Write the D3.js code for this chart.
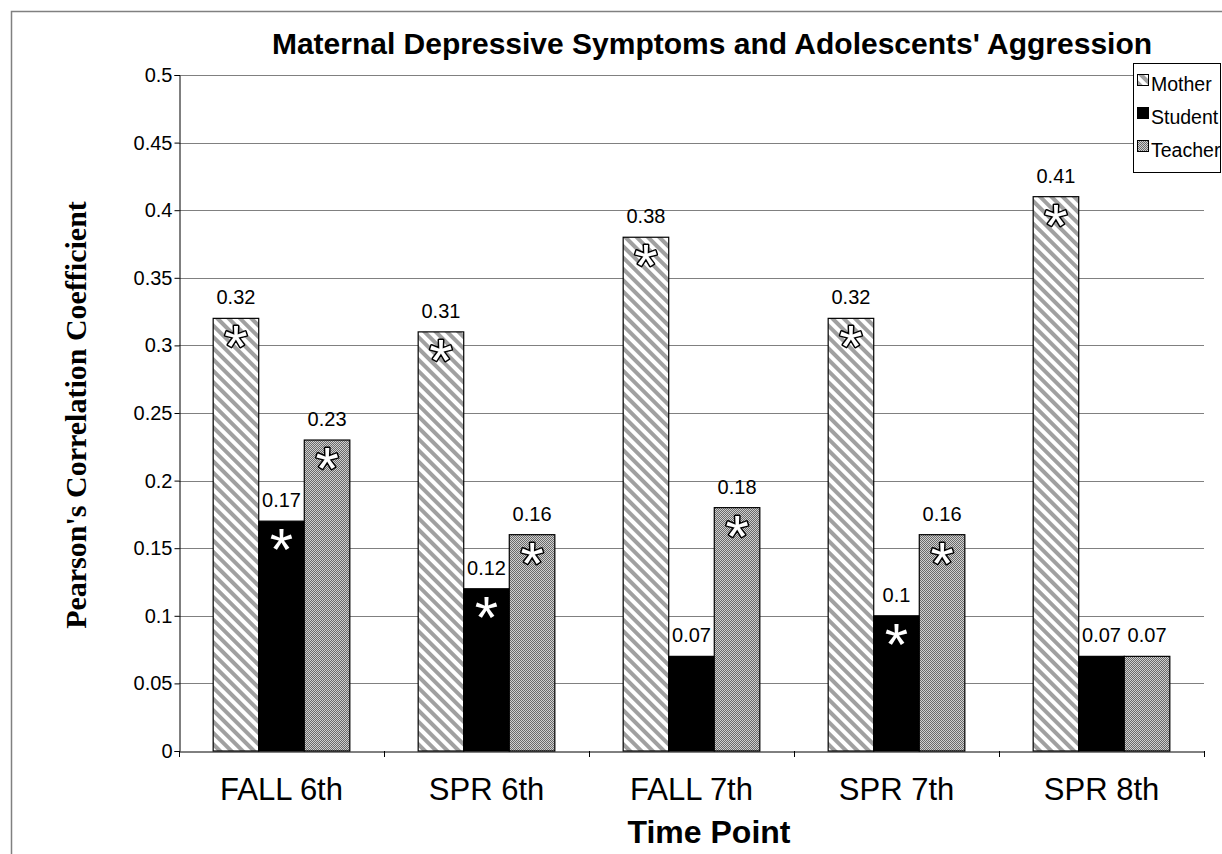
<!DOCTYPE html>
<html>
<head>
<meta charset="utf-8">
<script src="https://cdn.jsdelivr.net/npm/d3@7"></script>
<style>
  body { margin: 0; background: #fff; }
  svg { display: block; }
</style>
</head>
<body>
<div id="chart"></div>
<script>
var categories = ['FALL 6th', 'SPR 6th', 'FALL 7th', 'SPR 7th', 'SPR 8th'];
var seriesNames = ['Mother', 'Student', 'Teacher'];
var motherValues = [0.32, 0.31, 0.38, 0.32, 0.41];
var studentValues = [0.17, 0.12, 0.07, 0.10, 0.07];
var teacherValues = [0.23, 0.16, 0.18, 0.16, 0.07];
// which bars carry a significance star
var motherSig = [true, true, true, true, true];
var studentSig = [true, true, false, true, false];
var teacherSig = [true, true, true, true, false];
var yTicks = [0, 0.05, 0.1, 0.15, 0.2, 0.25, 0.3, 0.35, 0.4, 0.45, 0.5];

var width = 1222, height = 854;
var margin = {top: 75, right: 18, bottom: 103, left: 179};
var sans = 'Arial, "Liberation Sans", sans-serif';

var svg = d3.select('#chart').append('svg')
  .attr('width', width)
  .attr('height', height);

var defs = svg.append('defs');

// diagonal stripes for Mother
var stripes = defs.append('pattern')
  .attr('id', 'stripes')
  .attr('patternUnits', 'userSpaceOnUse')
  .attr('width', 8).attr('height', 8)
  .attr('patternTransform', 'rotate(-45)');
stripes.append('rect').attr('width', 8).attr('height', 8).attr('fill', '#fff');
stripes.append('rect').attr('width', 4).attr('height', 8).attr('fill', '#a0a0a0');

// fine checker for Teacher
var checker = defs.append('pattern')
  .attr('id', 'checker')
  .attr('patternUnits', 'userSpaceOnUse')
  .attr('width', 2).attr('height', 2);
checker.append('rect').attr('width', 2).attr('height', 2).attr('fill', '#d0d0d0');
checker.append('rect').attr('width', 1).attr('height', 1).attr('fill', '#6a6a6a');
checker.append('rect').attr('x', 1).attr('y', 1).attr('width', 1).attr('height', 1).attr('fill', '#6a6a6a');

var fills = {Mother: 'url(#stripes)', Student: '#000', Teacher: 'url(#checker)'};

// outer frame
svg.append('path')
  .attr('d', 'M11.5,' + height + 'V11.5H' + width)
  .attr('fill', 'none')
  .attr('stroke', '#808080')
  .attr('stroke-width', 1.5);

var x0 = d3.scaleBand()
  .domain(categories)
  .range([margin.left, width - margin.right]);

var x1 = d3.scaleBand()
  .domain(seriesNames)
  .range([0, x0.bandwidth()])
  .paddingOuter(0.75)
  .paddingInner(0);

var y = d3.scaleLinear()
  .domain([0, 0.5])
  .range([height - margin.bottom, margin.top]);

// gridlines
svg.append('g')
  .selectAll('line')
  .data(yTicks.slice(1))
  .enter().append('line')
  .attr('x1', margin.left)
  .attr('x2', width - margin.right)
  .attr('y1', d => Math.round(y(d)) + 0.5)
  .attr('y2', d => Math.round(y(d)) + 0.5)
  .attr('stroke', '#808080')
  .attr('stroke-width', 1);

// y axis
var yAxis = d3.axisLeft(y)
  .tickValues(yTicks)
  .tickSize(5)
  .tickPadding(2)
  .tickFormat(d => String(d));

var gy = svg.append('g')
  .attr('transform', 'translate(' + (margin.left + 0.5) + ',0)')
  .call(yAxis);
gy.selectAll('text')
  .attr('font-family', sans)
  .attr('font-size', 20)
  .attr('fill', '#000');
gy.selectAll('line, path').attr('stroke', '#000');

// bars
var rows = categories.map((c, i) => ({
  cat: c,
  items: [
    {name: 'Mother', value: motherValues[i], sig: motherSig[i]},
    {name: 'Student', value: studentValues[i], sig: studentSig[i]},
    {name: 'Teacher', value: teacherValues[i], sig: teacherSig[i]}
  ]
}));

var groups = svg.append('g')
  .selectAll('g')
  .data(rows)
  .enter().append('g')
  .attr('transform', d => 'translate(' + x0(d.cat) + ',0)');

groups.selectAll('rect')
  .data(d => d.items)
  .enter().append('rect')
  .attr('x', d => x1(d.name))
  .attr('y', d => y(d.value))
  .attr('width', x1.bandwidth())
  .attr('height', d => y(0) - y(d.value))
  .attr('fill', d => fills[d.name])
  .attr('stroke', '#000')
  .attr('stroke-width', 1.2);

// value labels
groups.selectAll('text.val')
  .data(d => d.items)
  .enter().append('text')
  .attr('class', 'val')
  .attr('x', d => x1(d.name) + x1.bandwidth() / 2)
  .attr('y', d => y(d.value) - 14)
  .attr('text-anchor', 'middle')
  .attr('font-family', sans)
  .attr('font-size', 20)
  .text(d => String(d.value));

// significance stars
groups.selectAll('text.star')
  .data(d => d.items.filter(e => e.sig))
  .enter().append('text')
  .attr('class', 'star')
  .attr('x', d => x1(d.name) + x1.bandwidth() / 2)
  .attr('y', d => y(d.value) + 49)
  .attr('text-anchor', 'middle')
  .attr('font-family', sans)
  .attr('font-size', 60)
  .attr('fill', '#fff')
  .attr('stroke', d => d.name === 'Student' ? 'none' : '#000')
  .attr('stroke-width', 3)
  .attr('stroke-linejoin', 'round')
  .attr('paint-order', 'stroke')
  .text('*');

// x axis
var xAxis = d3.axisBottom(x0).tickSize(0).tickPadding(26);
var gx = svg.append('g')
  .attr('transform', 'translate(0,' + (y(0) + 0.5) + ')')
  .call(xAxis);
gx.select('.domain').attr('stroke', '#000');
gx.selectAll('text')
  .attr('font-family', sans)
  .attr('font-size', 31)
  .attr('fill', '#000');

// category boundary ticks
svg.append('g')
  .selectAll('line')
  .data(categories.concat(['end']))
  .enter().append('line')
  .attr('x1', (d, i) => Math.round(margin.left + i * x0.step()) + 0.5)
  .attr('x2', (d, i) => Math.round(margin.left + i * x0.step()) + 0.5)
  .attr('y1', y(0))
  .attr('y2', y(0) + 6)
  .attr('stroke', '#000');

// title
svg.append('text')
  .attr('x', 712)
  .attr('y', 54)
  .attr('text-anchor', 'middle')
  .attr('font-family', sans)
  .attr('font-weight', 'bold')
  .attr('font-size', 30)
  .text("Maternal Depressive Symptoms and Adolescents' Aggression");

// axis titles
svg.append('text')
  .attr('x', 709)
  .attr('y', 843)
  .attr('text-anchor', 'middle')
  .attr('font-family', sans)
  .attr('font-weight', 'bold')
  .attr('font-size', 32)
  .text('Time Point');

svg.append('text')
  .attr('transform', 'translate(86,415) rotate(-90)')
  .attr('text-anchor', 'middle')
  .attr('font-family', '"Times New Roman", "Liberation Serif", serif')
  .attr('font-weight', 'bold')
  .attr('font-size', 30)
  .text("Pearson's Correlation Coefficient");

// legend
var legend = svg.append('g').attr('transform', 'translate(1133,63)');
legend.append('rect')
  .attr('x', 0.5).attr('y', 0.5)
  .attr('width', 87).attr('height', 109)
  .attr('fill', '#fff')
  .attr('stroke', '#000');
var li = legend.selectAll('g.item')
  .data(seriesNames)
  .enter().append('g')
  .attr('class', 'item')
  .attr('transform', (d, i) => 'translate(4,' + (22 + i * 33) + ')');
li.append('rect')
  .attr('x', 0.5).attr('y', -10.5)
  .attr('width', 11).attr('height', 11)
  .attr('fill', d => fills[d])
  .attr('stroke', '#000');
li.append('text')
  .attr('x', 14)
  .attr('y', 6)
  .attr('font-family', sans)
  .attr('font-size', 19.5)
  .text(d => d);
</script>
</body>
</html>
